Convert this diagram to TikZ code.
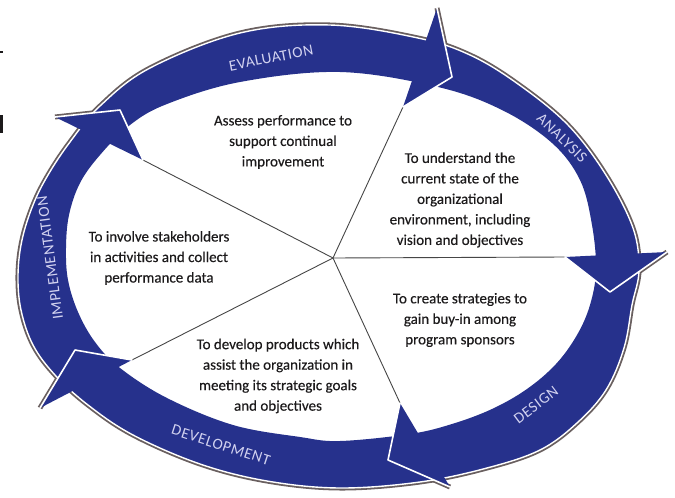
\documentclass[tikz,border=0pt]{standalone}
\usepackage{fontspec}
\setmainfont{Carlito}
\newfontfamily\bodyfont[FakeBold=0.3]{Carlito}
\newfontfamily\labelfont[LetterSpace=4]{Carlito}
\definecolor{ringblue}{RGB}{38,49,140}
\definecolor{rimgray}{RGB}{105,95,95}
\definecolor{txt}{RGB}{28,26,27}
\definecolor{lbl}{RGB}{210,210,240}
\definecolor{spokecol}{RGB}{70,70,70}
\begin{document}
\begin{tikzpicture}[x=1pt,y=-1pt,
  body/.style={align=center, text=txt, font=\bodyfont\fontsize{15}{20.5}\selectfont, inner sep=0pt},
  ringlabel/.style={text=lbl, font=\labelfont\fontsize{15.5}{15.5}\selectfont, inner sep=0pt},
  spokeline/.style={draw=spokecol, line width=0.9},
  rim/.style={draw=rimgray, line width=5, line join=round},
  edgeline/.style={draw=white, line width=1.6, line join=round, line cap=round},
  headfill/.style={fill=ringblue}]
\useasboundingbox (0,0) rectangle (675,498);
\fill[white] (0,0) rectangle (675,498);
% stray marks at the left edge
\fill[txt] (0,50.5) rectangle (2.5,53);
\fill[txt] (0,115) rectangle (2.8,133);
% coordinates
\coordinate (c) at (333,258);
\coordinate (iA) at (55,117);  \coordinate (iT) at (120,110); \coordinate (iB) at (143,160);
\coordinate (eA) at (437,8);   \coordinate (eT) at (452,77);  \coordinate (eB) at (403,107);
\coordinate (aA) at (667,252); \coordinate (aT) at (610,292); \coordinate (aB) at (565,257);
\coordinate (dA) at (450,487); \coordinate (dT) at (388,460); \coordinate (dB) at (400,403);
\coordinate (vA) at (40,408);  \coordinate (vT) at (75,350);  \coordinate (vB) at (132,360);
% rim shadows
\draw[rim] plot[smooth cycle, tension=0.6] coordinates {(330,25) (418,38) (470,55) (518,84) (568,125) (606,175) (633,228) (639,270) (632,305) (624,348) (606,390) (577,423) (540,450) (487,468) (420,482) (340,488) (267,481) (200,464) (133,435) (88,405) (55,375) (33,345) (21,310) (18,275) (22,240) (33,205) (48,175) (70,142) (100,106) (150,68) (240,33)};
\foreach \h in {i,e,a,d,v} { \draw[rim] (\h A) -- (\h T); }
% ring
\fill[ringblue, even odd rule]
  plot[smooth cycle, tension=0.6] coordinates {(330,25) (418,38) (470,55) (518,84) (568,125) (606,175) (633,228) (639,270) (632,305) (624,348) (606,390) (577,423) (540,450) (487,468) (420,482) (340,488) (267,481) (200,464) (133,435) (88,405) (55,375) (33,345) (21,310) (18,275) (22,240) (33,205) (48,175) (70,142) (100,106) (150,68) (240,33)}
  plot[smooth cycle, tension=0.6] coordinates {(340,72) (438,87) (502,110) (552,143) (580,180) (592,225) (596,270) (590,305) (577,335) (556,364) (527,389) (492,409) (452,424) (410,434) (340,441) (300,437) (233,425) (167,398) (120,368) (95,342) (78,312) (68,280) (66,248) (69,215) (80,183) (100,155) (130,125) (167,104) (240,82)};
\draw[edgeline, line width=1.4] plot[smooth cycle, tension=0.6] coordinates {(330,25) (418,38) (470,55) (518,84) (568,125) (606,175) (633,228) (639,270) (632,305) (624,348) (606,390) (577,423) (540,450) (487,468) (420,482) (340,488) (267,481) (200,464) (133,435) (88,405) (55,375) (33,345) (21,310) (18,275) (22,240) (33,205) (48,175) (70,142) (100,106) (150,68) (240,33)};
% spokes
\foreach \h in {i,e,a,d,v} { \draw[spokeline] (c) -- (\h B); }
% heads
\foreach \h in {i,e,a,d,v} {
  \fill[headfill] (\h A) -- (\h T) -- (\h B) -- cycle;
  \draw[edgeline] (\h A) -- (\h T) -- (\h B);
}
% ring labels
\node[ringlabel, rotate=11] (lEval) at (271,58) {EVALUATION};
\node[ringlabel, rotate=-44] (lAnal) at (562,138) {ANALYSIS};
\node[ringlabel, rotate=37] (lDes) at (536,405) {DESIGN};
\node[ringlabel, rotate=-18] (lDev) at (221,445) {DEVELOPMENT};
\node[ringlabel, rotate=97.6] (lImpl) at (50,258) {IMPLEMENTATION};
% body texts
\node[body] (tEval) at (283,142) {Assess performance to\\support continual\\improvement};
\node[body] (tAnal) at (460,200) {To understand the\\current state of the\\organizational\\environment, including\\vision and objectives};
\node[body] (tImpl) at (159,258) {To involve stakeholders\\in activities and collect\\performance data};
\node[body] (tDes) at (460,320) {To create strategies to\\gain buy-in among\\program sponsors};
\node[body] (tDev) at (278,376) {To develop products which\\assist the organization in\\meeting its strategic goals\\and objectives};
\end{tikzpicture}
\end{document}
